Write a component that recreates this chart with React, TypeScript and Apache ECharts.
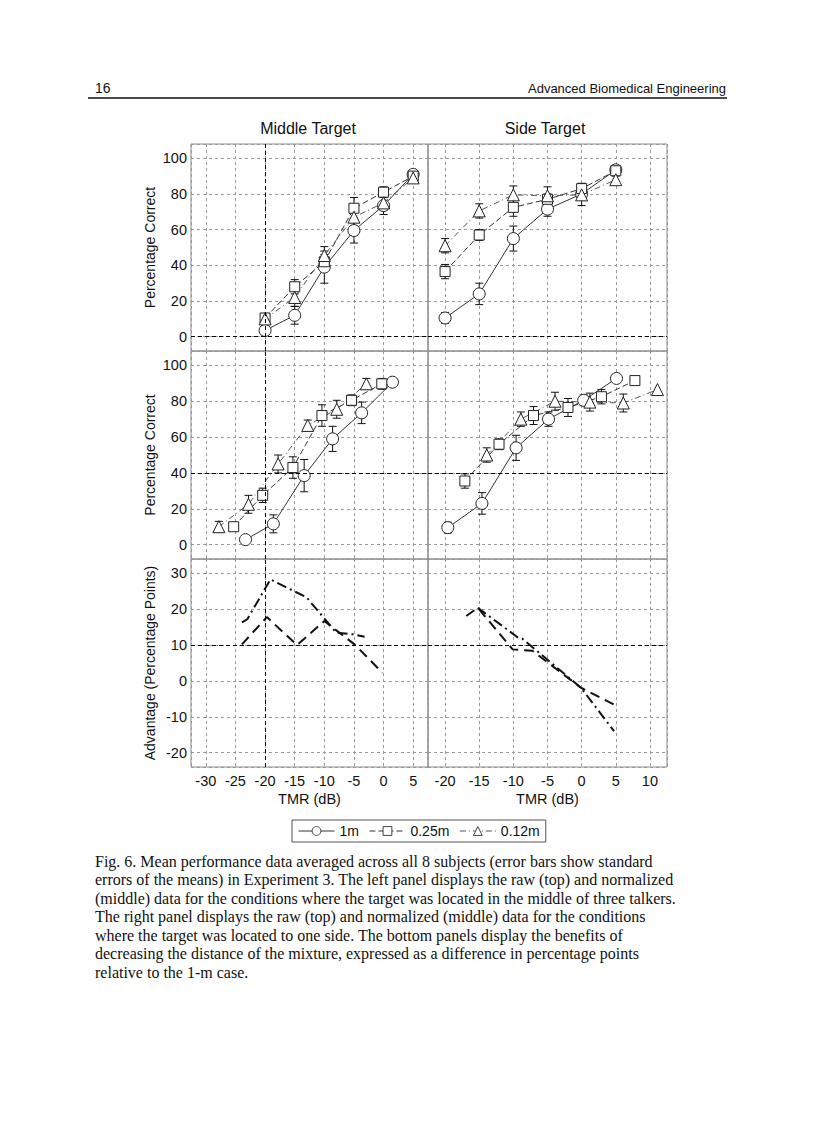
import React, { useEffect, useRef } from 'react';
import * as echarts from 'echarts';

// ---------- Data ----------
const RAW_X = [-20, -15, -10, -5, 0, 5];

// Middle target, raw (top-left)
const MID_RAW_1M = [3.5, 12, 39, 59.5, 73.5, 91];
const MID_RAW_1M_ERR = [2, 5, 9, 7, 5, 2];
const MID_RAW_025 = [10.5, 28, 42, 72, 81, 90];
const MID_RAW_025_ERR = [2, 4, 4, 6, 3, 2];
const MID_RAW_012 = [10, 22, 45.5, 67, 75, 89];
const MID_RAW_012_ERR = [2, 5, 5, 5, 4, 2];

// Side target, raw (top-right)
const SIDE_RAW_1M = [10.5, 24, 55, 71.5, 80, 93.5];
const SIDE_RAW_1M_ERR = [3, 6, 7, 4, 3, 2];
const SIDE_RAW_025 = [36.5, 57, 72.5, 77, 83, 93];
const SIDE_RAW_025_ERR = [4, 3, 5, 3, 3, 2];
const SIDE_RAW_012 = [51, 70.5, 79.5, 79, 79.5, 88];
const SIDE_RAW_012_ERR = [4, 4, 5, 5, 6, 2];

// Middle target, normalized (middle-left)
const MID_NORM_1M_X = [-23.3, -18.6, -13.4, -8.6, -3.7, 1.5];
const MID_NORM_1M = [2.8, 11.6, 38.5, 59, 73.5, 90.6];
const MID_NORM_1M_ERR = [0, 5, 9, 7, 6, 0];
const MID_NORM_025_X = [-25.3, -20.4, -15.3, -10.4, -5.4, -0.3];
const MID_NORM_025 = [10, 27.5, 43, 72, 80.5, 89.7];
const MID_NORM_025_ERR = [0, 4, 6, 6, 3, 3];
const MID_NORM_012_X = [-27.8, -22.8, -17.8, -12.8, -7.9, -2.9];
const MID_NORM_012 = [10, 22.5, 45, 66.5, 75.5, 89.7];
const MID_NORM_012_ERR = [3, 5, 5, 3, 5, 3];

// Side target, normalized (middle-right)
const SIDE_NORM_1M_X = [-19.6, -14.6, -9.6, -4.85, 0.3, 5.1];
const SIDE_NORM_1M = [9.5, 23, 54, 70, 80.5, 92.7];
const SIDE_NORM_1M_ERR = [3, 6, 7, 4, 3, 0];
const SIDE_NORM_025_X = [-17.1, -12.1, -7.05, -2, 2.9, 7.8];
const SIDE_NORM_025 = [35.5, 56, 72, 76.5, 82.5, 91.5];
const SIDE_NORM_025_ERR = [4, 3, 5, 5, 4, 0];
const SIDE_NORM_012_X = [-13.9, -8.9, -3.9, 1.2, 6.1, 11.1];
const SIDE_NORM_012 = [50, 70, 80, 79.5, 79, 86.5];
const SIDE_NORM_012_ERR = [4, 4, 5, 5, 5, 0];

// Advantage (bottom)
const MID_ADV_025_X = [-23.9, -19.7, -14.6, -10, -4.9, -0.2];
const MID_ADV_025 = [10.2, 17.8, 10, 16.7, 10.2, 2.3];
const MID_ADV_012_X = [-23.9, -23, -19.1, -13, -8, -5.2, -3.2];
const MID_ADV_012 = [16.3, 17.2, 28.3, 23.3, 13.5, 13, 12.3];
const SIDE_ADV_025_X = [-16.9, -15.2, -10.1, -7.2, -0.1, 4.75];
const SIDE_ADV_025 = [18.1, 20.4, 8.8, 8.4, -1.9, -6.6];
const SIDE_ADV_012_X = [-15.2, -9.4, -8.7, -0.1, 4.75];
const SIDE_ADV_012 = [20.4, 12.2, 11.8, -1.9, -14];

const SERIES_NAMES = ['1m', '0.25m', '0.12m'];
const COLUMN_TITLES = ['Middle Target', 'Side Target'];
const Y_NAMES = ['Percentage Correct', 'Percentage Correct', 'Advantage (Percentage Points)'];
const X_NAME = 'TMR (dB)';

const CAPTION = [
  'Fig. 6. Mean performance data averaged across all 8 subjects (error bars show standard',
  'errors of the means) in Experiment 3. The left panel displays the raw (top) and normalized',
  '(middle) data for the conditions where the target was located in the middle of three talkers.',
  'The right panel displays the raw (top) and normalized (middle) data for the conditions',
  'where the target was located to one side. The bottom panels display the benefits of',
  'decreasing the distance of the mixture, expressed as a difference in percentage points',
  'relative to the 1-m case.',
];

// ---------- Layout ----------
const COL_LEFT = [191, 428];
const COL_WIDTH = [237, 239];
const ROW_TOP = [144, 351, 559];
const ROW_HEIGHT = [207, 208, 208];
const X_RANGE = [[-32.5, 7.5, 8], [-22.5, 12.5, 7]];
const Y_RANGE = [[-8, 108, 6], [-8, 108, 6], [-24, 34, 6]];

const SANS = 'Liberation Sans, Arial, sans-serif';
const SERIF = 'Liberation Serif, Times New Roman, serif';

const STYLES: any = {
  '1m': { symbol: 'circle', size: 12, type: 'solid', color: '#333' },
  '0.25m': { symbol: 'rect', size: 10, type: [6, 3], color: '#333' },
  '0.12m': { symbol: 'triangle', size: 12, type: [6, 3, 1, 3], color: '#555' },
};

function pairs(xs: number[], ys: number[]) {
  return xs.map((x, i) => [x, ys[i]]);
}

function errRender(params: any, api: any) {
  const x = api.value(0), y = api.value(1), e = api.value(2);
  if (!e) return { type: 'group', children: [] };
  const t = api.coord([x, y + e]);
  const b = api.coord([x, y - e]);
  const w = 4;
  const st = { stroke: '#111', lineWidth: 1 };
  return {
    type: 'group',
    children: [
      { type: 'line', shape: { x1: t[0], y1: t[1], x2: b[0], y2: b[1] }, style: st },
      { type: 'line', shape: { x1: t[0] - w, y1: t[1], x2: t[0] + w, y2: t[1] }, style: st },
      { type: 'line', shape: { x1: b[0] - w, y1: b[1], x2: b[0] + w, y2: b[1] }, style: st },
    ],
  };
}

function buildOption() {
  const grids: any[] = [];
  const xAxes: any[] = [];
  const yAxes: any[] = [];
  for (let r = 0; r < 3; r++) {
    for (let c = 0; c < 2; c++) {
      const gi = r * 2 + c;
      grids.push({
        left: COL_LEFT[c], top: ROW_TOP[r], width: COL_WIDTH[c], height: ROW_HEIGHT[r],
        show: true, borderColor: '#8a8a8a', borderWidth: 1, backgroundColor: 'transparent',
      });
      const bottom = r === 2;
      xAxes.push({
        type: 'value', gridIndex: gi, min: X_RANGE[c][0], max: X_RANGE[c][1], splitNumber: X_RANGE[c][2],
        axisLine: { show: false }, axisTick: { show: false },
        axisLabel: {
          show: bottom, showMinLabel: false, showMaxLabel: false, margin: 6,
          fontSize: 14.5, color: '#111', fontFamily: SANS,
        },
        splitLine: { show: true, lineStyle: { color: '#999', type: [3, 3], width: 1 } },
        name: bottom ? X_NAME : '', nameLocation: 'middle', nameGap: 24,
        nameTextStyle: { fontSize: 14.5, color: '#111', fontFamily: SANS },
      });
      yAxes.push({
        type: 'value', gridIndex: gi, min: Y_RANGE[r][0], max: Y_RANGE[r][1], splitNumber: Y_RANGE[r][2],
        axisLine: { show: false }, axisTick: { show: false },
        axisLabel: {
          show: c === 0, showMinLabel: false, showMaxLabel: false, margin: 4,
          fontSize: 14.5, color: '#111', fontFamily: SANS,
        },
        splitLine: { show: true, lineStyle: { color: '#999', type: [3, 3], width: 1 } },
        name: c === 0 ? Y_NAMES[r] : '', nameLocation: 'middle', nameGap: 34, nameRotate: 90,
        nameTextStyle: { fontSize: 14, color: '#111', fontFamily: SANS },
      });
    }
  }

  const series: any[] = [];
  const refLines: any = {
    0: [{ xAxis: -20 }, { yAxis: 0 }],
    1: [{ yAxis: 0 }],
    2: [{ xAxis: -20 }, { yAxis: 40 }],
    3: [{ yAxis: 40 }],
    4: [{ xAxis: -20 }, { yAxis: 10 }],
    5: [{ yAxis: 10 }],
  };
  const markFor = (gi: number) => ({
    silent: true, symbol: 'none', label: { show: false },
    lineStyle: { color: '#000', type: [4, 3], width: 1 },
    data: refLines[gi],
  });

  const addPanel = (gi: number, sets: any[]) => {
    sets.forEach((s, k) => {
      const st = STYLES[s.name];
      series.push({
        type: 'custom', name: s.name + ' err' + gi, xAxisIndex: gi, yAxisIndex: gi, z: 2, silent: true,
        renderItem: errRender, data: s.xs.map((x: number, i: number) => [x, s.ys[i], s.err[i]]),
        encode: { x: 0, y: 1 },
      });
      series.push({
        type: 'line', name: s.name, xAxisIndex: gi, yAxisIndex: gi, z: 3,
        data: pairs(s.xs, s.ys), symbol: st.symbol, symbolSize: st.size,
        itemStyle: { color: '#fff', borderColor: '#222', borderWidth: 1 },
        lineStyle: { color: st.color, width: 1, type: st.type },
        markLine: k === 0 ? markFor(gi) : undefined,
      });
    });
  };

  addPanel(0, [
    { name: '1m', xs: RAW_X, ys: MID_RAW_1M, err: MID_RAW_1M_ERR },
    { name: '0.25m', xs: RAW_X, ys: MID_RAW_025, err: MID_RAW_025_ERR },
    { name: '0.12m', xs: RAW_X, ys: MID_RAW_012, err: MID_RAW_012_ERR },
  ]);
  addPanel(1, [
    { name: '1m', xs: RAW_X, ys: SIDE_RAW_1M, err: SIDE_RAW_1M_ERR },
    { name: '0.25m', xs: RAW_X, ys: SIDE_RAW_025, err: SIDE_RAW_025_ERR },
    { name: '0.12m', xs: RAW_X, ys: SIDE_RAW_012, err: SIDE_RAW_012_ERR },
  ]);
  addPanel(2, [
    { name: '1m', xs: MID_NORM_1M_X, ys: MID_NORM_1M, err: MID_NORM_1M_ERR },
    { name: '0.25m', xs: MID_NORM_025_X, ys: MID_NORM_025, err: MID_NORM_025_ERR },
    { name: '0.12m', xs: MID_NORM_012_X, ys: MID_NORM_012, err: MID_NORM_012_ERR },
  ]);
  addPanel(3, [
    { name: '1m', xs: SIDE_NORM_1M_X, ys: SIDE_NORM_1M, err: SIDE_NORM_1M_ERR },
    { name: '0.25m', xs: SIDE_NORM_025_X, ys: SIDE_NORM_025, err: SIDE_NORM_025_ERR },
    { name: '0.12m', xs: SIDE_NORM_012_X, ys: SIDE_NORM_012, err: SIDE_NORM_012_ERR },
  ]);

  const advLine = (gi: number, name: string, xs: number[], ys: number[], type: any, mark: boolean) => ({
    type: 'line', name, xAxisIndex: gi, yAxisIndex: gi, z: 3, symbol: 'none',
    data: pairs(xs, ys), lineStyle: { color: '#111', width: 2, type },
    markLine: mark ? markFor(gi) : undefined,
  });
  series.push(advLine(4, '0.25m adv', MID_ADV_025_X, MID_ADV_025, [10, 6], true));
  series.push(advLine(4, '0.12m adv', MID_ADV_012_X, MID_ADV_012, [10, 4, 2, 4], false));
  series.push(advLine(5, '0.25m adv', SIDE_ADV_025_X, SIDE_ADV_025, [10, 6], true));
  series.push(advLine(5, '0.12m adv', SIDE_ADV_012_X, SIDE_ADV_012, [10, 4, 2, 4], false));

  const graphic: any[] = [
    { type: 'text', left: 95, top: 81, style: { text: '16', fontSize: 14, fontFamily: SANS, fill: '#111' } },
    { type: 'text', right: 90, top: 82, style: { text: 'Advanced Biomedical Engineering', fontSize: 13, fontFamily: SANS, fill: '#111' } },
    { type: 'line', shape: { x1: 88, y1: 98, x2: 727, y2: 98 }, style: { stroke: '#111', lineWidth: 1.5 } },
    { type: 'text', x: 308, y: 128, style: { text: COLUMN_TITLES[0], fontSize: 16, fontFamily: SANS, fill: '#111', textAlign: 'center', textVerticalAlign: 'middle' } },
    { type: 'text', x: 545, y: 128, style: { text: COLUMN_TITLES[1], fontSize: 16, fontFamily: SANS, fill: '#111', textAlign: 'center', textVerticalAlign: 'middle' } },
  ];
  CAPTION.forEach((line, i) => {
    graphic.push({
      type: 'text', x: 95, y: 861 + i * 18.5,
      style: { text: line, fontSize: 16, fontFamily: SERIF, fill: '#111', textVerticalAlign: 'middle' },
    });
  });

  return {
    animation: false,
    backgroundColor: '#fff',
    grid: grids,
    xAxis: xAxes,
    yAxis: yAxes,
    legend: {
      data: SERIES_NAMES, left: 292, top: 820, orient: 'horizontal',
      borderColor: '#555', borderWidth: 1, padding: [4, 6], itemGap: 10,
      itemWidth: 36, itemHeight: 11,
      lineStyle: { width: 1 },
      itemStyle: { borderWidth: 1, color: '#fff', borderColor: '#444' },
      textStyle: { fontSize: 14, fontFamily: SANS, color: '#111' },
    },
    series,
    graphic,
  };
}

export default function App() {
  const ref = useRef<HTMLDivElement>(null);
  useEffect(() => {
    if (!ref.current) return;
    const chart = echarts.init(ref.current, undefined, { renderer: 'svg' });
    chart.setOption(buildOption() as any);
    return () => chart.dispose();
  }, []);
  return <div ref={ref} style={{ position: 'absolute', left: 0, top: 0, width: 816, height: 1123 }} />;
}
